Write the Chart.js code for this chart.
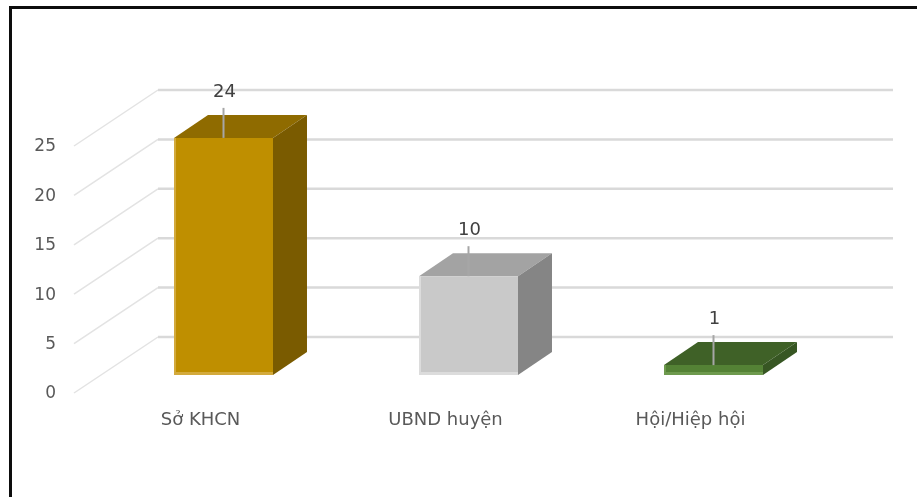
<!DOCTYPE html>
<html>
<head>
<meta charset="utf-8">
<script src="https://cdn.jsdelivr.net/npm/chart.js@4.4.1/dist/chart.umd.min.js"></script>
<style>
  html, body { margin: 0; padding: 0; background: #fff; }
  #wrap { position: relative; width: 917px; height: 497px; }
  #frame {
    position: absolute; left: 9px; top: 6px; right: 0; bottom: 0;
    border-left: 3px solid #0d0d0d; border-top: 3px solid #0d0d0d;
    pointer-events: none;
  }
</style>
</head>
<body>
<div id="wrap">
  <canvas id="chart" width="917" height="497"></canvas>
  <div id="frame"></div>
</div>
<script>
// ==============================
// Data
// ==============================
const categories = ['Sở KHCN', 'UBND huyện', 'Hội/Hiệp hội'];
const counts = [24, 10, 1];
const yTicks = [0, 5, 10, 15, 20, 25];

// front / top / side colours of each column
const frontColors = ['#bf8f00', '#c9c9c9', '#548235'];
const edgeColors = ['#d3aa3c', '#dcdcdc', '#6e9a4e'];
const topColors = ['#8f6b00', '#a3a3a3', '#3f6127'];
const sideColors = ['#7a5b00', '#858585', '#375623'];

// 3D offsets, relative to the column front plane
const DEPTH = { dx: 34, dy: -23 };   // column depth
const BACK = { dx: 57, dy: -38 };    // back wall
const FRONT = { dx: -27, dy: 18 };   // front edge of the floor

const FONT = '"DejaVu Sans", "Liberation Sans", sans-serif';

// ==============================
// 3D plugin: walls, column faces, labels
// ==============================
const bar3d = {
    id: 'bar3d',
    beforeDatasetsDraw(chart) {
        const { ctx, chartArea: area, scales: { y } } = chart;
        ctx.save();

        yTicks.forEach(v => {
            const py = y.getPixelForValue(v);
            // floor / side wall diagonal
            ctx.strokeStyle = '#e3e3e3';
            ctx.lineWidth = 1.5;
            ctx.beginPath();
            ctx.moveTo(area.left + FRONT.dx, py + FRONT.dy);
            ctx.lineTo(area.left + BACK.dx, py + BACK.dy);
            ctx.stroke();

            // back wall gridline
            ctx.strokeStyle = '#d9d9d9';
            ctx.lineWidth = 2.5;
            ctx.beginPath();
            ctx.moveTo(area.left + BACK.dx, py + BACK.dy);
            ctx.lineTo(area.right + BACK.dx, py + BACK.dy);
            ctx.stroke();

            // tick label at the front edge
            ctx.fillStyle = '#595959';
            ctx.font = '17px ' + FONT;
            ctx.textAlign = 'right';
            ctx.textBaseline = 'middle';
            ctx.fillText(String(v), area.left + FRONT.dx - 18, py + FRONT.dy + 1);
        });

        // category labels along the front edge
        const x = chart.scales.x;
        ctx.fillStyle = '#595959';
        ctx.font = '18px ' + FONT;
        ctx.textAlign = 'center';
        ctx.textBaseline = 'middle';
        categories.forEach((c, i) => {
            ctx.fillText(c, x.getPixelForValue(i) - 23, area.bottom + 45);
        });
        ctx.restore();
    },
    afterDatasetsDraw(chart) {
        const { ctx } = chart;
        const meta = chart.getDatasetMeta(0);
        ctx.save();
        meta.data.forEach((bar, i) => {
            const p = bar.getProps(['x', 'y', 'base', 'width'], true);
            const x1 = p.x - p.width / 2;
            const x2 = p.x + p.width / 2;
            const top = p.y;
            const base = p.base;

            // top face
            ctx.fillStyle = topColors[i];
            ctx.beginPath();
            ctx.moveTo(x1, top);
            ctx.lineTo(x2, top);
            ctx.lineTo(x2 + DEPTH.dx, top + DEPTH.dy);
            ctx.lineTo(x1 + DEPTH.dx, top + DEPTH.dy);
            ctx.closePath();
            ctx.fill();

            // side face
            ctx.fillStyle = sideColors[i];
            ctx.beginPath();
            ctx.moveTo(x2, top);
            ctx.lineTo(x2 + DEPTH.dx, top + DEPTH.dy);
            ctx.lineTo(x2 + DEPTH.dx, base + DEPTH.dy);
            ctx.lineTo(x2, base);
            ctx.closePath();
            ctx.fill();

            // value label with leader line
            ctx.strokeStyle = '#a6a6a6';
            ctx.lineWidth = 2;
            ctx.beginPath();
            ctx.moveTo(p.x, top);
            ctx.lineTo(p.x, top - 30);
            ctx.stroke();

            ctx.fillStyle = '#404040';
            ctx.font = '18px ' + FONT;
            ctx.textAlign = 'center';
            ctx.textBaseline = 'middle';
            ctx.fillText(String(counts[i]), p.x + 1, top - 46);
        });
        ctx.restore();
    }
};

// ==============================
// Chart.js Initialization
// ==============================
const chartCtx = document.getElementById('chart').getContext('2d');
const chart = new Chart(chartCtx, {
    type: 'bar',
    data: {
        labels: categories,
        datasets: [{
            data: counts,
            backgroundColor: frontColors,
            borderColor: edgeColors,
            borderWidth: { left: 2, bottom: 3, top: 0, right: 0 },
            borderSkipped: false,
            categoryPercentage: 1,
            barPercentage: 0.404
        }]
    },
    options: {
        responsive: false,
        animation: false,
        layout: { padding: { left: 101, top: 128, right: 81, bottom: 122 } },
        plugins: {
            legend: { display: false },
            tooltip: { enabled: false }
        },
        scales: {
            x: { display: false },
            y: { display: false, min: 0, max: 25 }
        }
    },
    plugins: [bar3d]
});
</script>
</body>
</html>
